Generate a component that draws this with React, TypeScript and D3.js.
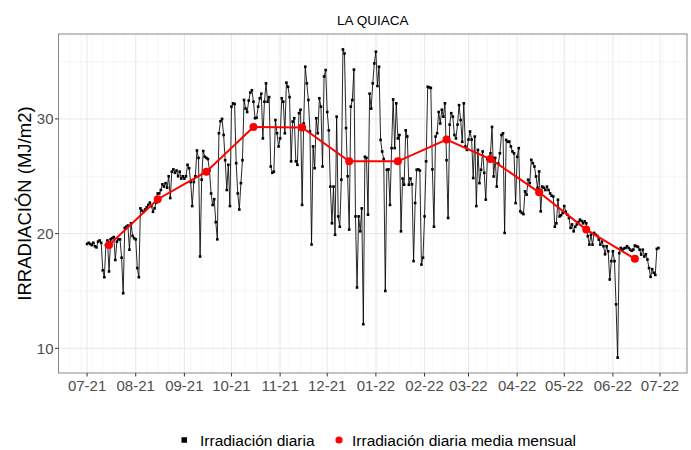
import React, { useEffect, useRef } from 'react';
import * as d3 from 'd3';

// daily irradiation (MJ/m2), one array per month
const jul21 = [19.1, 19.2, 19.1, 19.0, 19.2, 18.9, 18.8, 19.3, 19.4, 19.2, 16.8, 16.2, 19.0, 19.4, 16.7, 19.5, 19.6, 19.7, 17.7, 19.3, 19.5, 19.5, 17.9, 14.8, 20.5, 20.6, 20.7, 18.6, 20.9, 19.8, 19.6];
const aug21 = [19.5, 17.0, 16.2, 22.2, 22.0, 21.9, 22.1, 22.3, 22.5, 22.7, 22.4, 21.9, 22.2, 22.7, 23.5, 23.5, 23.8, 24.3, 24.1, 24.4, 24.0, 25.0, 23.1, 25.4, 25.6, 25.3, 25.5, 25.0, 25.4, 24.8, 25.0];
const sep21 = [24.8, 25.0, 26.0, 25.7, 24.5, 22.4, 24.5, 25.0, 27.25, 26.6, 18.0, 24.7, 27.2, 26.7, 26.6, 26.5, 25.5, 23.5, 22.5, 23.0, 21.0, 19.5, 28.75, 29.8, 30.0, 28.6, 26.4, 23.8, 26.0, 22.4];
const oct21 = [31.07, 31.36, 31.3, 26.14, 23.5, 22.1, 24.4, 26.4, 31.65, 30.9, 30.6, 31.6, 32.3, 32.5, 31.5, 30.06, 30.1, 31.07, 31.8, 32.2, 28.3, 31.5, 33.1, 31.5, 31.9, 25.85, 25.3, 25.4, 29.9, 28.75, 27.6];
const nov21 = [28.3, 31.8, 31.5, 28.75, 33.16, 32.8, 31.9, 26.3, 29.77, 30.06, 26.3, 26.0, 30.5, 30.8, 22.5, 29.6, 34.55, 33.1, 31.65, 28.9, 19.05, 27.6, 25.7, 30.06, 28.75, 31.8, 31.07, 25.85, 33.7, 34.26];
const dec21 = [30.6, 29.0, 24.1, 20.9, 24.1, 19.9, 30.2, 21.5, 20.6, 24.7, 36.06, 35.7, 29.2, 25.0, 20.35, 31.07, 31.65, 34.3, 21.5, 15.3, 21.5, 20.2, 22.2, 12.1, 26.7, 26.6, 21.65, 32.2, 30.9, 33.1, 34.84];
const jan22 = [35.86, 32.87, 34.55, 28.17, 27.16, 26.5, 15.0, 25.57, 25.6, 22.5, 27.45, 31.7, 27.45, 31.36, 28.3, 28.6, 20.2, 24.8, 24.26, 29.0, 28.47, 24.26, 24.8, 24.3, 17.6, 22.67, 25.57, 25.6, 25.5, 17.3, 17.9];
const feb22 = [21.5, 26.3, 32.8, 32.75, 32.7, 25.6, 20.6, 28.46, 28.75, 30.6, 29.6, 30.8, 30.2, 31.36, 26.4, 21.36, 29.5, 30.5, 30.2, 28.6, 28.3, 29.5, 31.2, 29.9, 28.0, 31.36, 27.6, 27.3];
const mar22 = [28.2, 28.9, 28.2, 24.84, 28.46, 22.4, 27.3, 24.4, 25.57, 27.16, 25.3, 22.96, 26.5, 26.4, 27.0, 29.3, 24.98, 26.6, 24.1, 26.1, 27.0, 28.6, 28.75, 20.06, 28.17, 28.0, 28.03, 27.6, 27.16, 27.0, 22.66];
const apr22 = [26.7, 27.45, 21.94, 21.8, 21.7, 23.68, 23.4, 24.7, 24.4, 26.43, 26.14, 25.85, 24.98, 24.0, 25.42, 21.94, 24.1, 24.0, 23.8, 24.1, 23.8, 23.5, 23.3, 23.24, 20.6, 20.9, 22.95, 21.5, 21.6, 21.8];
const may22 = [22.4, 21.9, 21.65, 21.36, 20.5, 20.8, 20.2, 20.6, 20.8, 21.0, 21.22, 21.1, 20.9, 21.07, 20.9, 19.77, 19.04, 19.9, 19.04, 20.06, 19.9, 19.8, 19.48, 19.04, 19.3, 18.9, 18.2, 18.9, 18.46, 16.0, 17.6];
const jun22 = [18.46, 17.6, 13.83, 9.19, 18.3, 18.75, 18.6, 18.7, 18.75, 18.9, 18.75, 18.6, 18.5, 18.6, 18.96, 18.9, 18.84, 18.6, 18.17, 18.6, 18.0, 18.2, 17.74, 17.0, 16.23, 16.9, 16.58, 16.4, 18.67, 18.75];

const monthStarts = ['2021-07', '2021-08', '2021-09', '2021-10', '2021-11', '2021-12', '2022-01', '2022-02', '2022-03', '2022-04', '2022-05', '2022-06'];
const dailyByMonth = [jul21, aug21, sep21, oct21, nov21, dec21, jan22, feb22, mar22, apr22, may22, jun22];

// monthly mean, plotted on the 15th
const monthlyMean = [19.0, 23.0, 25.4, 29.3, 29.25, 26.3, 26.3, 28.2, 26.5, 23.6, 20.35, 17.8];

const title = 'LA QUIACA';
const yTitle = 'IRRADIACIÓN (MJ/m2)';
const legendLabels = ['Irradiación diaria', 'Irradiación diaria media mensual'];
const yTicks = [10, 20, 30];

const FONT = '"Liberation Sans", Arial, sans-serif';

const App = () => {
  const ref = useRef<SVGSVGElement>(null);

  useEffect(() => {
    const svg = d3.select(ref.current);
    svg.selectAll('*').remove();

    const p = { left: 58.5, right: 687, top: 34, bottom: 373 };
    const parse = d3.timeParse('%Y-%m');

    const daily = dailyByMonth.flatMap((vals, m) => {
      const s = parse(monthStarts[m]) as Date;
      return vals.map((v, i) => ({ date: d3.timeDay.offset(s, i), value: v }));
    });
    const means = monthlyMean.map((v, m) => ({
      date: d3.timeDay.offset(parse(monthStarts[m]) as Date, 14),
      value: v,
    }));

    // ggplot-like 5% expansion
    const [t0, t1] = d3.extent(daily, (d) => +d.date) as [number, number];
    const tp = (t1 - t0) * 0.05;
    const x = d3.scaleTime().domain([new Date(t0 - tp), new Date(t1 + tp)]).range([p.left, p.right]);
    const [v0, v1] = d3.extent(daily, (d) => d.value) as [number, number];
    const vp = (v1 - v0) * 0.05;
    const y = d3.scaleLinear().domain([v0 - vp, v1 + vp]).range([p.bottom, p.top]);

    const [d0, d1] = x.domain();
    const g = svg.append('g');

    // minor grid
    g.selectAll('.vminor')
      .data(d3.timeWeek.range(d0, d1))
      .enter()
      .append('line')
      .attr('x1', (d) => x(d)).attr('x2', (d) => x(d))
      .attr('y1', p.top).attr('y2', p.bottom)
      .attr('stroke', '#f2f2f2').attr('stroke-width', 0.6);
    g.selectAll('.hminor')
      .data([15, 25, 35])
      .enter()
      .append('line')
      .attr('x1', p.left).attr('x2', p.right)
      .attr('y1', (d) => y(d)).attr('y2', (d) => y(d))
      .attr('stroke', '#f2f2f2').attr('stroke-width', 0.6);

    // major grid
    const months = d3.timeMonth.range(d3.timeMonth.ceil(d0), d1);
    g.selectAll('.vmajor')
      .data(months)
      .enter()
      .append('line')
      .attr('x1', (d) => x(d)).attr('x2', (d) => x(d))
      .attr('y1', p.top).attr('y2', p.bottom)
      .attr('stroke', '#e8e8e8').attr('stroke-width', 1);
    g.selectAll('.hmajor')
      .data(yTicks)
      .enter()
      .append('line')
      .attr('x1', p.left).attr('x2', p.right)
      .attr('y1', (d) => y(d)).attr('y2', (d) => y(d))
      .attr('stroke', '#e8e8e8').attr('stroke-width', 1);

    // daily series
    const line = d3.line<{ date: Date; value: number }>().x((d) => x(d.date)).y((d) => y(d.value));
    g.append('path')
      .datum(daily)
      .attr('d', line)
      .attr('fill', 'none')
      .attr('stroke', '#000')
      .attr('stroke-width', 0.85);
    g.selectAll('.sq')
      .data(daily)
      .enter()
      .append('rect')
      .attr('x', (d) => x(d.date) - 1.3)
      .attr('y', (d) => y(d.value) - 1.3)
      .attr('width', 2.6)
      .attr('height', 2.6)
      .attr('fill', '#000');

    // monthly mean
    g.append('path')
      .datum(means)
      .attr('d', line)
      .attr('fill', 'none')
      .attr('stroke', '#ff0000')
      .attr('stroke-width', 2);
    g.selectAll('.mean')
      .data(means)
      .enter()
      .append('circle')
      .attr('cx', (d) => x(d.date))
      .attr('cy', (d) => y(d.value))
      .attr('r', 4)
      .attr('fill', '#ff0000');

    // panel border
    g.append('rect')
      .attr('x', p.left).attr('y', p.top)
      .attr('width', p.right - p.left).attr('height', p.bottom - p.top)
      .attr('fill', 'none').attr('stroke', '#8a8a8a').attr('stroke-width', 1);

    // x axis
    const fmt = d3.timeFormat('%m-%y');
    const xt = g.selectAll('.xt').data(months).enter().append('g');
    xt.append('line')
      .attr('x1', (d) => x(d)).attr('x2', (d) => x(d))
      .attr('y1', p.bottom).attr('y2', p.bottom + 3.5)
      .attr('stroke', '#333');
    xt.append('text')
      .attr('x', (d) => x(d))
      .attr('y', 391)
      .attr('text-anchor', 'middle')
      .attr('font-family', FONT)
      .attr('font-size', 15)
      .attr('fill', '#4d4d4d')
      .text((d) => fmt(d));

    // y axis
    const yt = g.selectAll('.yt').data(yTicks).enter().append('g');
    yt.append('line')
      .attr('x1', p.left - 3.5).attr('x2', p.left)
      .attr('y1', (d) => y(d)).attr('y2', (d) => y(d))
      .attr('stroke', '#333');
    yt.append('text')
      .attr('x', p.left - 5)
      .attr('y', (d) => y(d))
      .attr('dy', '0.36em')
      .attr('text-anchor', 'end')
      .attr('font-family', FONT)
      .attr('font-size', 15)
      .attr('fill', '#4d4d4d')
      .text((d) => d);

    svg.append('text')
      .attr('transform', `translate(31,${(p.top + p.bottom) / 2}) rotate(-90)`)
      .attr('text-anchor', 'middle')
      .attr('font-family', FONT)
      .attr('font-size', 18.5)
      .attr('fill', '#000')
      .text(yTitle);

    svg.append('text')
      .attr('x', (p.left + p.right) / 2)
      .attr('y', 25)
      .attr('text-anchor', 'middle')
      .attr('font-family', FONT)
      .attr('font-size', 13.5)
      .attr('fill', '#000')
      .text(title);

    // legend
    const ly = 440;
    svg.append('rect')
      .attr('x', 181.5).attr('y', ly - 2.75)
      .attr('width', 5.5).attr('height', 5.5)
      .attr('fill', '#000');
    svg.append('circle')
      .attr('cx', 339).attr('cy', ly)
      .attr('r', 3.6)
      .attr('fill', '#ff0000');
    svg.selectAll('.lt')
      .data(legendLabels)
      .enter()
      .append('text')
      .attr('x', (d, i) => (i === 0 ? 200 : 352))
      .attr('y', ly)
      .attr('dy', '0.36em')
      .attr('font-family', FONT)
      .attr('font-size', 15.5)
      .attr('fill', '#000')
      .text((d) => d);
  }, []);

  return (
    <svg
      ref={ref}
      width={691}
      height={450}
      style={{ position: 'absolute', left: 0, top: 0, background: '#fff' }}
    />
  );
};

export default App;
